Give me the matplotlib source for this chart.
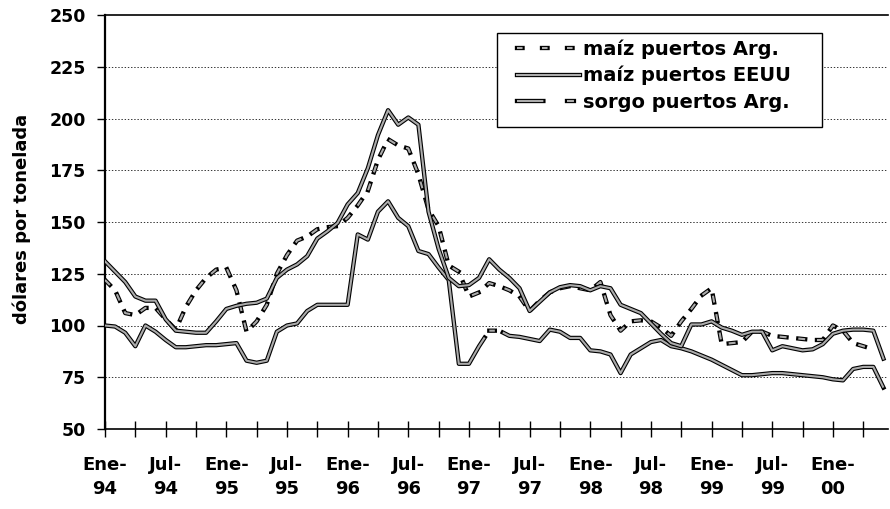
import numpy as np
import matplotlib
matplotlib.use('Agg')
import matplotlib.pyplot as plt
import matplotlib.patheffects as pe
from matplotlib.lines import Line2D
from matplotlib.patches import Rectangle

plt.rcParams['font.family'] = ['DejaVu Sans']
plt.rcParams['font.weight'] = 'bold'
plt.rcParams['lines.scale_dashes'] = False

# months since Jan-1994 (Jan-94 .. Jun-00)
months = np.arange(78)

tick_pos = [0, 6, 12, 18, 24, 30, 36, 42, 48, 54, 60, 66, 72]
tick_labels = ['Ene-\n94', 'Jul-\n94', 'Ene-\n95', 'Jul-\n95', 'Ene-\n96', 'Jul-\n96',
               'Ene-\n97', 'Jul-\n97', 'Ene-\n98', 'Jul-\n98', 'Ene-\n99', 'Jul-\n99',
               'Ene-\n00']

maiz_arg = [122, 117, 106, 105, 108.5, 108.5, 103, 98, 109, 117,
            123, 127, 128, 117, 97, 102, 110, 125, 134, 141,
            143, 146.5, 147.5, 148, 152, 158, 165, 180, 190, 187,
            185.5, 173, 156, 148, 129, 126, 114, 116, 120.5, 119,
            117, 114, 107, 112, 116, 118, 119, 118, 117, 121,
            105, 97.5, 102, 102.5, 102, 99, 95, 102, 108, 114.5,
            118, 91, 91.5, 92, 97, 97, 95, 94.5, 94, 93.5,
            93, 93, 100, 97.5, 91.5, 90, 88.5, np.nan]

maiz_eeuu = [131, 126, 121, 114, 112, 112, 103, 97.5, 97, 96.5,
             96.5, 102, 108, 109.5, 110.5, 111, 113, 123, 127, 129.5,
             133.5, 142, 145.5, 149.5, 158.5, 164, 176, 192, 204, 197,
             200.5, 197, 155, 137, 123, 119, 119.5, 123, 132, 127,
             123, 118, 107, 111.5, 116, 118.5, 119.5, 119, 117, 119,
             118, 110, 108, 106, 101, 96, 91.5, 90, 100.5, 100.5,
             102, 99, 97.5, 95.5, 97, 97, 88, 90, 89, 88,
             88.5, 91, 96, 97.5, 98, 98, 97.5, 84]

sorgo_arg = [100, 99.5, 96.5, 90, 100, 97, 93, 89.5, 89.5, 90,
             90.5, 90.5, 91, 91.5, 83, 82, 83, 97, 100, 101,
             107, 110, 110, 110, 110, 144, 141.5, 155, 160, 152,
             148, 136, 134.5, 128, 122, 81.5, 81.5, 90, 97.5, 97.5,
             95, 94.5, 93.5, 92.5, 98, 97, 94, 94, 88, 87.5,
             86, 77, 86, 89, 92, 93, 90, 89, 87.5, 85.5,
             83.5, 81, 78.5, 76, 76, 76.5, 77, 77, 76.5, 76,
             75.5, 75, 74, 73.5, 79, 80, 80, 70]

labels = ['maíz puertos Arg.', 'maíz puertos EEUU', 'sorgo puertos Arg.']

core = '#ababab'
fx = [pe.Stroke(linewidth=3.1, foreground='black', capstyle='projecting'), pe.Normal()]

fig = plt.figure(figsize=(8.9, 5.09), dpi=100)
ax = fig.add_axes([105 / 890, 80 / 509, 783 / 890, 414 / 509])

l1, = ax.plot(months, maiz_arg, color=core, lw=1.5, dashes=(5, 8.5),
              path_effects=fx, zorder=3)
l3, = ax.plot(months, sorgo_arg, color=core, lw=1.5, dashes=(480, 6, 4, 6),
              path_effects=fx, zorder=3)
l2, = ax.plot(months, maiz_eeuu, color=core, lw=1.5,
              path_effects=fx, zorder=4)

ax.set_xlim(0, 77.45)
ax.set_ylim(50, 250)
ax.set_yticks(np.arange(50, 251, 25))
ax.set_xticks(tick_pos)
ax.set_xticklabels(tick_labels, linespacing=1.45)
ax.set_xticks(np.arange(3, 78, 6), minor=True)

ax.tick_params(axis='y', direction='out', length=6, width=1, labelsize=12.5, pad=8)
ax.tick_params(axis='x', which='both', direction='inout', length=11, width=1,
               labelsize=13, pad=14)

for y in range(75, 250, 25):
    ax.axhline(y, color='#333333', lw=0.7, ls=(0, (1, 1.3)), zorder=1)

ax.spines['right'].set_visible(False)
ax.spines['left'].set_linewidth(1.6)
ax.spines['bottom'].set_linewidth(1.2)
ax.spines['top'].set_linewidth(1.2)

ax.set_ylabel('dólares por tonelada', fontsize=13, fontweight='bold')
ax.yaxis.set_label_coords(-0.0945, 0.508)

# legend box
ax.add_patch(Rectangle((0.5006, 0.7295), 0.4151, 0.227, transform=ax.transAxes,
                       facecolor='white', edgecolor='black', lw=1.0, zorder=9,
                       clip_on=False))

h1 = Line2D([], [], color=core, lw=1.5, dashes=(4, 14), path_effects=fx)
h2 = Line2D([], [], color=core, lw=1.5, path_effects=fx)
h3 = Line2D([], [], color=core, lw=1.5, dashes=(19, 17, 5, 17), path_effects=fx)
leg = ax.legend([h1, h2, h3], labels, loc='upper left',
                bbox_to_anchor=(0.526, 0.942), frameon=False,
                fontsize=14, handlelength=3.25,
                handletextpad=0.15, labelspacing=0.38, borderpad=0,
                borderaxespad=0)
leg.set_zorder(10)

fig.savefig('out.png', dpi=100)
